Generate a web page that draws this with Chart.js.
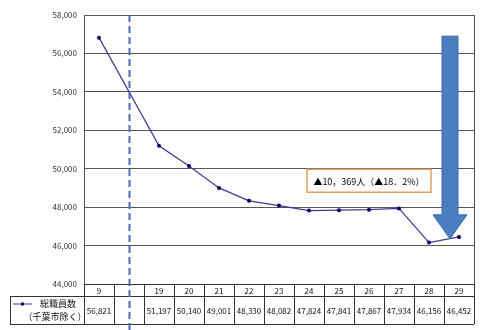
<!DOCTYPE html>
<html>
<head>
<meta charset="utf-8">
<script src="https://cdn.jsdelivr.net/npm/chart.js@4/dist/chart.umd.min.js"></script>
<style>
  html, body { margin: 0; padding: 0; background: #fff; }
  #wrap { width: 480px; height: 330px; }
</style>
</head>
<body>
<div id="wrap"><canvas id="c" width="480" height="330"></canvas></div>
<script>
// categories (year labels), blank column marks the break
const years = ['9', '', '19', '20', '21', '22', '23', '24', '25', '26', '27', '28', '29'];
// total staff (excluding Chiba city)
const staff = [56821, null, 51197, 50140, 49001, 48330, 48082, 47824, 47841, 47867, 47934, 46156, 46452];
const seriesName = ['総職員数', '（千葉市除く）'];
const noteText = '▲10，369人（▲18．2%）';

const fontFamily = "'Noto Sans CJK JP', 'DejaVu Sans', sans-serif";
const lineColor = '#3a3a95';
const markColor = '#000066';
const dashColor = '#4a6cb3';
const arrowColor = '#4a7ebf';
const noteBorder = '#e0a060';

const fmt = v => v.toLocaleString('en-US');

/**
 * draws the data table under the plot, the break line,
 * the note box and the big arrow
 */
const extras = {
	id: 'extras',
	afterDatasetsDraw(chart) {
		const { ctx, chartArea: a, scales: { x, y } } = chart;
		ctx.save();

		// right border of plot
		ctx.strokeStyle = '#555';
		ctx.lineWidth = 1;
		ctx.beginPath();
		ctx.moveTo(a.right + 0.5, a.top);
		ctx.lineTo(a.right + 0.5, a.bottom);
		ctx.stroke();

		// note box
		const nx = x.getPixelForValue(9);
		const ny = y.getPixelForValue(49400);
		ctx.font = '9px ' + fontFamily;
		ctx.fillStyle = '#fff';
		ctx.fillRect(nx - 62, ny - 11, 124, 23);
		ctx.strokeStyle = noteBorder;
		ctx.lineWidth = 1.5;
		ctx.strokeRect(nx - 62, ny - 11, 124, 23);
		ctx.fillStyle = '#000';
		ctx.textAlign = 'center';
		ctx.textBaseline = 'middle';
		ctx.fillText(noteText, nx, ny + 1);

		// big arrow
		const ax = x.getPixelForValue(11.7);
		const top = y.getPixelForValue(56900);
		const tip = y.getPixelForValue(46350);
		const headTop = tip - 24;
		ctx.fillStyle = arrowColor;
		ctx.strokeStyle = '#3a6aa8';
		ctx.lineWidth = 1;
		ctx.beginPath();
		ctx.moveTo(ax - 8, top);
		ctx.lineTo(ax + 8, top);
		ctx.lineTo(ax + 8, headTop);
		ctx.lineTo(ax + 17, headTop);
		ctx.lineTo(ax, tip);
		ctx.lineTo(ax - 17, headTop);
		ctx.lineTo(ax - 8, headTop);
		ctx.closePath();
		ctx.fill();
		ctx.stroke();
		ctx.restore();
	},
	afterDraw(chart) {
		const { ctx, chartArea: a, scales: { x } } = chart;
		const colW = a.width / years.length;
		const r0 = a.bottom, r1 = a.bottom + 12, r2 = a.bottom + 40;
		ctx.save();

		// table grid
		ctx.strokeStyle = '#333';
		ctx.lineWidth = 1;
		ctx.beginPath();
		ctx.moveTo(a.left, r0 + 0.5); ctx.lineTo(a.right, r0 + 0.5);
		ctx.moveTo(10, r1 + 0.5); ctx.lineTo(a.right, r1 + 0.5);
		ctx.moveTo(10, r2 + 0.5); ctx.lineTo(a.right, r2 + 0.5);
		ctx.moveTo(10.5, r1); ctx.lineTo(10.5, r2);
		for (let i = 0; i <= years.length; i++) {
			const px = Math.round(a.left + i * colW) + 0.5;
			ctx.moveTo(px, r0); ctx.lineTo(px, r2);
		}
		ctx.stroke();

		// table text
		ctx.fillStyle = '#111';
		ctx.textAlign = 'center';
		ctx.textBaseline = 'middle';
		ctx.font = '8px ' + fontFamily;
		years.forEach((t, i) => {
			const cx = x.getPixelForValue(i);
			ctx.fillText(t, cx, (r0 + r1) / 2 + 1);
			if (staff[i] != null) ctx.fillText(fmt(staff[i]), cx, (r1 + r2) / 2 + 1);
		});

		// legend cell
		ctx.strokeStyle = lineColor;
		ctx.beginPath();
		ctx.moveTo(13, r1 + 8); ctx.lineTo(32, r1 + 8);
		ctx.stroke();
		ctx.fillStyle = markColor;
		ctx.beginPath();
		ctx.arc(22.5, r1 + 8, 1.8, 0, Math.PI * 2);
		ctx.fill();
		ctx.fillStyle = '#111';
		ctx.font = '9px ' + fontFamily;
		ctx.fillText(seriesName[0], 58, r1 + 8);
		ctx.fillText(seriesName[1], 55, r1 + 21);

		// dashed break line through the blank column
		const bx = Math.round(x.getPixelForValue(1)) + 0.5;
		ctx.strokeStyle = dashColor;
		ctx.lineWidth = 2;
		ctx.setLineDash([7, 4]);
		ctx.beginPath();
		ctx.moveTo(bx, a.top);
		ctx.lineTo(bx, chart.height);
		ctx.stroke();
		ctx.restore();
	}
};

new Chart('c', {
	type: 'line',
	data: {
		labels: years,
		datasets: [{
			label: seriesName.join(''),
			data: staff,
			borderColor: lineColor,
			borderWidth: 1.2,
			pointRadius: 2,
			pointBackgroundColor: markColor,
			pointBorderColor: markColor,
			pointBorderWidth: 0,
			spanGaps: true,
			tension: 0
		}]
	},
	options: {
		responsive: false,
		animation: false,
		layout: { padding: { top: 15, right: 6, bottom: 38, left: 0 } },
		plugins: { legend: { display: false }, tooltip: { enabled: false } },
		scales: {
			x: {
				offset: true,
				ticks: { display: false },
				grid: { display: false },
				border: { display: false }
			},
			y: {
				min: 44000,
				max: 58000,
				afterFit(scale) { scale.width = 84; },
				ticks: {
					stepSize: 2000,
					padding: 7,
					color: '#333',
					font: { family: fontFamily, size: 8 },
					callback: v => fmt(v)
				},
				grid: { color: '#555', drawTicks: false },
				border: { color: '#555' }
			}
		}
	},
	plugins: [extras]
});
</script>
</body>
</html>
